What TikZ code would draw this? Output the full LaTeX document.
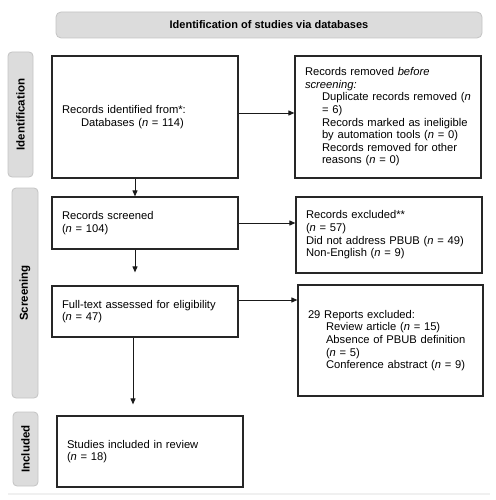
\documentclass[tikz,border=0pt]{standalone}
\usepackage{fontspec}
\setmainfont{Liberation Sans}
\usepackage{xcolor}
\usepackage{tikz}
\usetikzlibrary{positioning,calc,arrows.meta}

\definecolor{barfill}{HTML}{DCDCDC}
\definecolor{barline}{HTML}{C4C4C4}

\tikzset{
    flowbox/.style={draw=black!85, line width=1.2pt, align=left, inner xsep=10pt, text width=166pt, minimum width=186pt, font=\fontsize{11.2}{12.6}\selectfont},
    sidebar/.style={draw=barline, fill=barfill, rounded corners=4pt, line width=0.8pt, rotate=90, font=\fontsize{11.5}{13}\selectfont\bfseries},
    arr/.style={-{Triangle[length=6pt,width=5pt]}, line width=0.9pt, black!90}
}

\begin{document}
\begin{tikzpicture}[x=1pt, y=-1pt]
    \useasboundingbox (0,0) rectangle (495,500);

    % Header
    \node [draw=barline, fill=barfill, rounded corners=5pt, line width=0.8pt, minimum width=426pt, minimum height=26pt, font=\fontsize{11}{13}\selectfont\bfseries] (header) at (269,25) {Identification of studies via databases};

    % Side bars
    \node [sidebar, minimum width=125pt, minimum height=25pt] (idbar) at (20.5,114.5) {Identification};
    \node [sidebar, minimum width=210pt, minimum height=26pt] (scrbar) at (25,293) {Screening};
    \node [sidebar, minimum width=74pt, minimum height=25pt] (incbar) at (25.5,449) {Included};

    % Identification
    \node [flowbox, minimum height=122pt] (ident) at (145,117) {Records identified from*:\\\hspace*{19pt}Databases (\textit{n} = 114)};
    \node [flowbox, minimum height=122pt] (removed) at (388,117) {Records removed \textit{before}\\\textit{screening:}\\\hspace*{17pt}Duplicate records removed (\textit{n}\\\hspace*{17pt}= 6)\\\hspace*{17pt}Records marked as ineligible\\\hspace*{17pt}by automation tools (\textit{n} = 0)\\\hspace*{17pt}Records removed for other\\\hspace*{17pt}reasons (\textit{n} = 0)};

    % Screening
    \node [flowbox, minimum height=52pt] (screened) at (145,223) {Records screened\\(\textit{n} = 104)};
    \node [flowbox, minimum height=76pt] (excluded) at (389,235) {Records excluded**\\(\textit{n} = 57)\\Did not address PBUB (\textit{n} = 49)\\Non-English (\textit{n} = 9)};
    \node [flowbox, minimum height=51pt] (fulltext) at (145,311.5) {Full-text assessed for eligibility\\(\textit{n} = 47)};
    \node [flowbox, minimum height=111pt, minimum width=185pt, text width=165pt] (reports) at (390.5,340.5) {29 Reports excluded:\\\hspace*{18pt}Review article (\textit{n} = 15)\\\hspace*{18pt}Absence of PBUB definition\\\hspace*{18pt}(\textit{n} = 5)\\\hspace*{18pt}Conference abstract (\textit{n} = 9)};

    % Included
    \node [flowbox, minimum height=71pt] (included) at (150,451.5) {Studies included in review\\(\textit{n} = 18)};

    % Arrows
    \draw [arr] ([yshift=4pt]ident.east) -- ([yshift=4pt]ident.east -| removed.west);
    \draw [arr] ([xshift=-10pt]ident.south) -- ([xshift=-10pt]screened.north);
    \draw [arr] (screened.east) -- (screened.east -| excluded.west);
    \draw [arr, shorten >=13pt] ([xshift=-10pt]screened.south) -- ([xshift=-10pt]fulltext.north);
    \draw [arr] ([yshift=11.5pt]fulltext.east) -- ([yshift=11.5pt]fulltext.east -| reports.west);
    \draw [arr, shorten >=11pt] ([xshift=-12pt]fulltext.south) -- ([xshift=-12pt]fulltext.south |- included.north);

    % Bottom rule
    \draw [line width=1.5pt, black!6] (8,494) -- (490,494);
\end{tikzpicture}
\end{document}
